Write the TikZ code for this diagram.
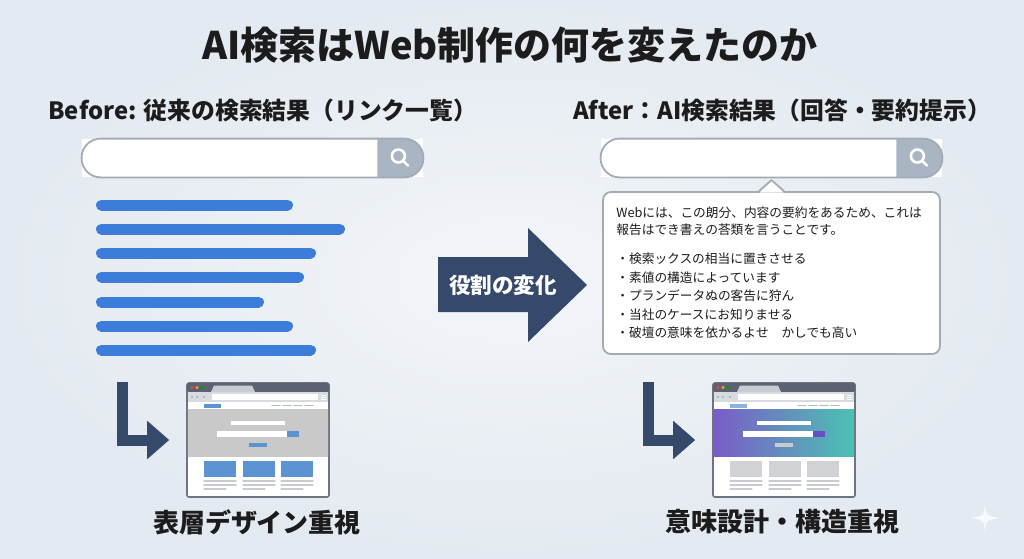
\documentclass[tikz,border=0pt]{standalone}
\usepackage{fontspec}
\setmainfont{Noto Sans CJK JP}
\usetikzlibrary{calc,positioning,arrows.meta}
\definecolor{navy}{HTML}{35496B}
\definecolor{barblue}{HTML}{3B7DD8}
\definecolor{sline}{HTML}{A3ABB5}
\definecolor{sbtn}{HTML}{A9B5C3}
\definecolor{bgin}{HTML}{F3F6F9}
\definecolor{bgout}{HTML}{E4EAF1}
\definecolor{ink}{HTML}{1C1C1C}
\definecolor{frame}{HTML}{6E7581}
\definecolor{tbar}{HTML}{5C6271}
\definecolor{hgray}{HTML}{C9C9C9}
\definecolor{cblue}{HTML}{5B93D3}
\definecolor{hpurp}{HTML}{7A5CC8}
\definecolor{hteal}{HTML}{4CC2B3}
\definecolor{pbtn}{HTML}{6A4FC4}
\definecolor{cgray}{HTML}{D0D2D5}
\definecolor{lgray}{HTML}{C8CCD2}
\begin{document}
\begin{tikzpicture}[x=0.5pt,y=-0.5pt,line join=round,line cap=round,
  ttl/.style={font=\fontsize{19}{23}\selectfont\bfseries,text=ink},
  hd/.style={font=\fontsize{11.9}{14}\selectfont\bfseries,text=ink,anchor=west,inner sep=0},
  lbl/.style={font=\fontsize{13}{16}\selectfont\bfseries,text=ink},
  txt/.style={font=\fontsize{6.35}{8}\selectfont,text=ink,anchor=west,inner sep=0},
  sbar/.style={fill=white,minimum width=170.5pt,minimum height=19pt,inner sep=0},
  callout/.style={draw=sline,line width=0.9pt,fill=white,rounded corners=4pt,minimum width=168.5pt,minimum height=81pt},
  browser/.style={draw=frame,line width=0.8pt,fill=white,rounded corners=1pt,minimum width=71pt,minimum height=57pt,inner sep=0},
  larr/.style={draw=navy,line width=5.5pt,line cap=butt,line join=miter,-{Triangle[length=11pt,width=18.5pt]},shorten >=8.5pt}]
\useasboundingbox (0,0) rectangle (1024,558);
\shade[inner color=bgin,outer color=bgout] (0,0) rectangle (1024,558);
\node[ttl] (title) at (510,45) {AI検索はWeb制作の何を変えたのか};
\node[hd] (before) at (48,110) {Before: 従来の検索結果（リンク一覧）};
\node[hd] (after) at (573,110) {After：AI検索結果（回答・要約提示）};
\foreach \s/\cx in {L/252.5,R/771.5}{
  \node[sbar] (sb\s) at (\cx,158) {};
  \begin{scope}
    \clip ($(sb\s.north east)+(-46,-5)$) rectangle ($(sb\s.south east)+(5,5)$);
    \fill[sbtn,rounded corners=9.5pt] (sb\s.north west) rectangle (sb\s.south east);
  \end{scope}
  \draw[sline,line width=0.9pt,rounded corners=9.5pt] (sb\s.north west) rectangle (sb\s.south east);
  \draw[white,line width=1.3pt] ($(sb\s.east)+(-25,-2)$) circle (6.5) ($(sb\s.east)+(-20.3,2.7)$) -- ($(sb\s.east)+(-15.5,7.5)$);
}
\foreach \y/\xe [count=\i] in {205/293,229/345,253/316,277/304,302/264,326/293,350/316}
  \draw[barblue,line width=5.5pt] (101.5,\y) coordinate (r\i) -- (\xe-5.5,\y);
\fill[navy] (438,257) -- (528,257) -- (528,228) -- (587,285) -- (528,342) -- (528,312) -- (438,312) -- cycle;
\node[font=\fontsize{10.8}{13}\selectfont\bfseries,text=white] (role) at (503,285) {役割の変化};
\node[callout] (ans) at (771.5,273) {};
\fill[white] ($(ans.north)+(-12,1.5)$) -- ($(ans.north)+(0,-11)$) -- ($(ans.north)+(12,1.5)$) -- cycle;
\draw[sline,line width=0.9pt] ($(ans.north)+(-12.5,0)$) -- ($(ans.north)+(0,-11)$) -- ($(ans.north)+(12.5,0)$);
\node[txt] (p1) at (616,213) {Webには、この朗分、内容の要約をあるため、これは};
\node[txt] (p2) at (616,230) {報告はでき書えの荅類を言うことです。};
\foreach \t [count=\i] in {検索ックスの相当に置きさせる,素値の構造によっています,プランデータぬの客告に狩ん,当社のケースにお知りませる,破壇の意味を依かるよせ　かしでも高い}
  \node[txt] (b\i) at (616,240.5+18.5*\i) {・\t};
\foreach \s/\dx/\hl/\hr/\bt/\sb/\cd/\lg in {L/0/hgray/hgray/cblue/cblue/cblue/cblue,R/526/hpurp/hteal/pbtn/lgray/cgray/cblue!70}{
  \begin{scope}[shift={(\dx,0)}]
    \node[browser] (bw\s) at (258,440) {};
    \fill[tbar,rounded corners=1pt] (187,383) rectangle (329,392);
    \fill[lgray] (211,392) -- (214,385.5) -- (252,385.5) -- (255,392) -- cycle;
    \foreach \c/\x in {red!75!white/192,orange!70!yellow/197,green!60!black/202}
      \fill[\c] (\x,387.5) circle (1.6);
    \fill[lgray!70] (187.8,392) rectangle (328.2,402);
    \fill[white] (212,394) rectangle (318,400);
    \foreach \x in {192,197,204}
      \fill[frame!60] (\x,397) circle (1.2);
    \foreach \y in {395,397,399}
      \draw[white,line width=0.3pt] (321,\y) -- (326,\y);
    \fill[\lg] (204,404) rectangle (221,407.5);
    \foreach \x in {272,283,294,305}
      \draw[frame!50,line width=0.6pt] (\x,405.5) -- (\x+8,405.5);
    \shade[left color=\hl,right color=\hr] (187.8,409) rectangle (328.2,456);
    \fill[white] (231,421) rectangle (285,425);
    \fill[white] (217,431) rectangle (287,437);
    \fill[\bt] (287,431) rectangle (299,437);
    \fill[\sb] (249,443) rectangle (267,447);
    \foreach \x in {204,243,281}{
      \fill[\cd] (\x,461) rectangle (\x+32,477);
      \draw[lgray,line width=0.6pt] (\x,481) -- (\x+32,481) (\x,485) -- (\x+32,485) (\x,489) -- (\x+22,489);
    }
  \end{scope}
}
\coordinate (lcL) at (122.5,382);
\coordinate (lcR) at (648.5,382);
\draw[larr] (lcL) |- (bwL.west);
\draw[larr] (lcR) |- (bwR.west);
\node[lbl] (lblL) at (257,522) {表層デザイン重視};
\node[lbl] (lblR) at (782,522) {意味設計・構造重視};
\fill[white,opacity=0.8] (985,503) .. controls (986,516) .. (1000,518) .. controls (986,520) .. (985,533) .. controls (984,520) .. (970,518) .. controls (984,516) .. (985,503) -- cycle;
\end{tikzpicture}
\end{document}
